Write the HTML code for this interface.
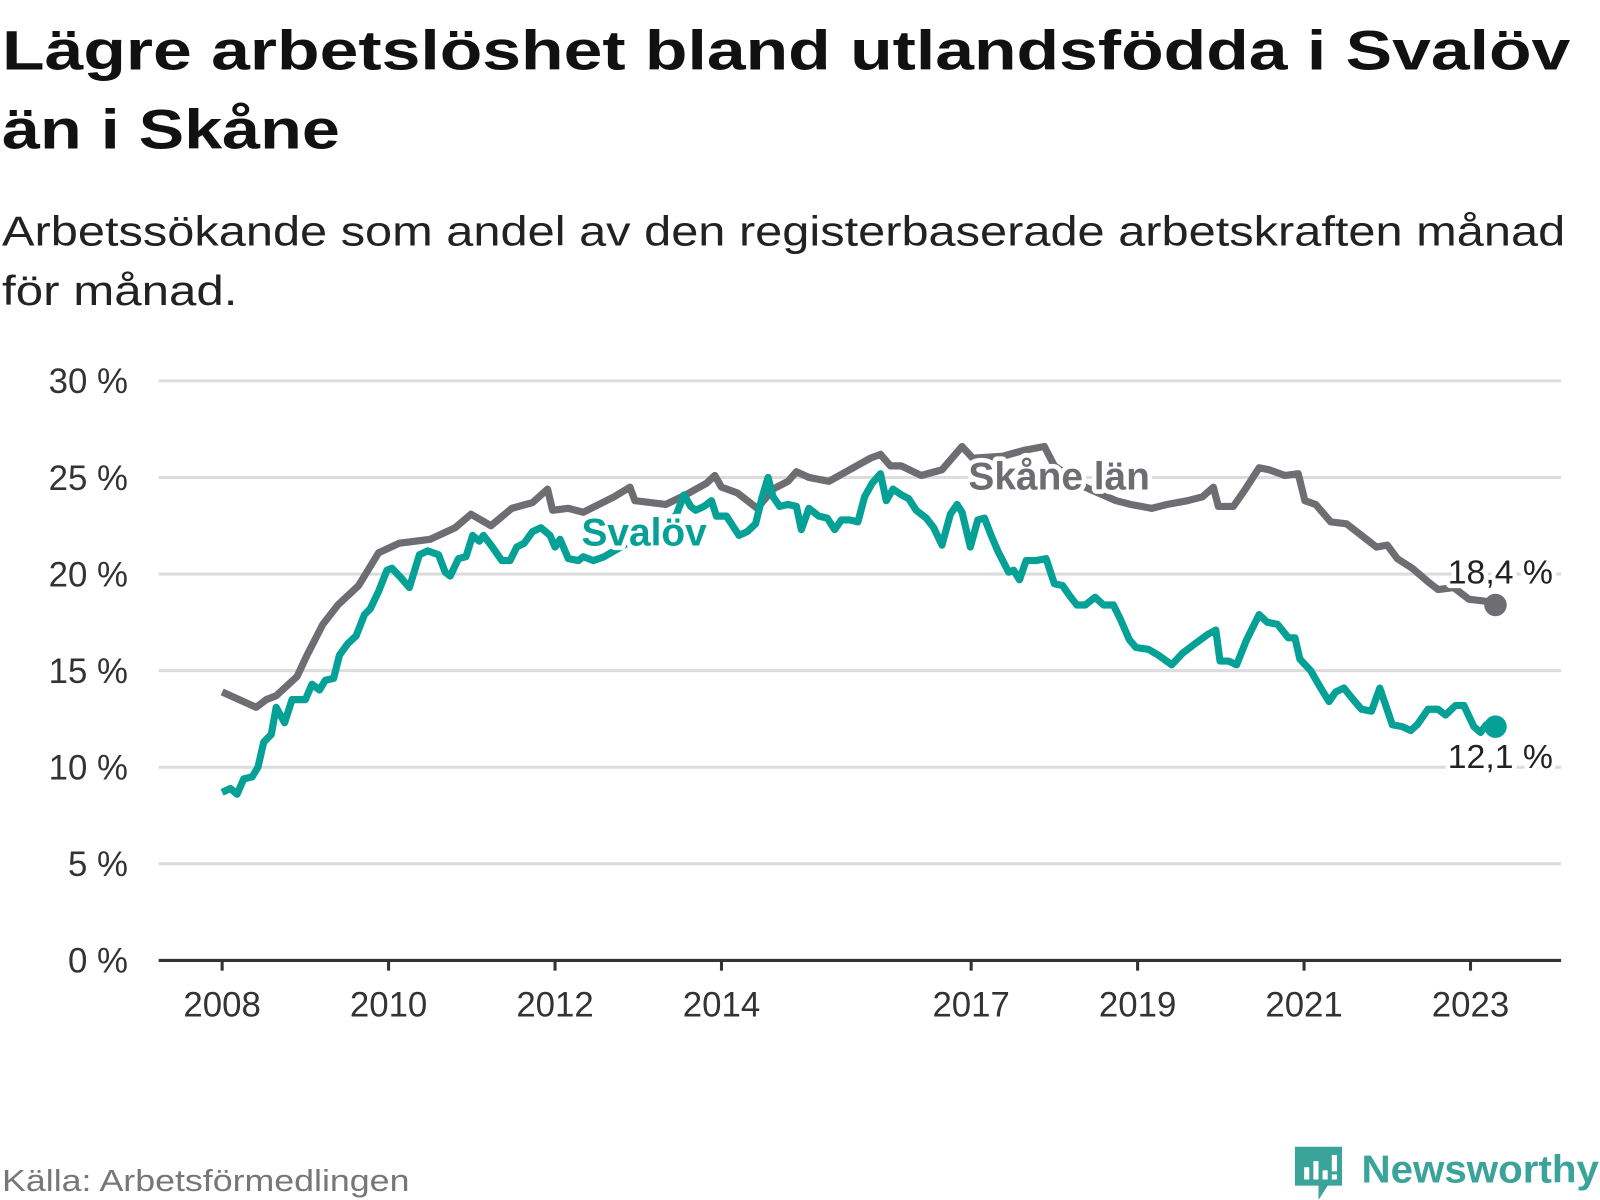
<!DOCTYPE html>
<html><head><meta charset="utf-8"><style>
html,body{margin:0;padding:0;background:#fff;width:1600px;height:1200px;overflow:hidden}
svg{display:block}
text{font-family:"Liberation Sans",sans-serif}
</style></head><body>
<svg id="chart" width="1600" height="1200" viewBox="0 0 1563 1172" preserveAspectRatio="none" xmlns="http://www.w3.org/2000/svg">
<text x="2" y="68" font-size="54" font-weight="bold" fill="#111" textLength="1532" lengthAdjust="spacingAndGlyphs">Lägre arbetslöshet bland utlandsfödda i Svalöv</text>
<text x="2" y="145" font-size="54" font-weight="bold" fill="#111" textLength="330" lengthAdjust="spacingAndGlyphs">än i Skåne</text>
<text x="2" y="240" font-size="41" fill="#222" textLength="1527" lengthAdjust="spacingAndGlyphs">Arbetssökande som andel av den registerbaserade arbetskraften månad</text>
<text x="2" y="298" font-size="41" fill="#222" textLength="230" lengthAdjust="spacingAndGlyphs">för månad.</text>
<g id="grid"></g><g id="axes"></g><g id="lines"></g><g id="labels"></g>
<text x="2" y="1163" font-size="30" fill="#777" textLength="398" lengthAdjust="spacingAndGlyphs">Källa: Arbetsförmedlingen</text>
<g>
<path d="M1265 1120 h46 v38 h-14 l-9 14 l-0 -14 h-23 z" fill="#3aa39a"/>
<rect x="1274" y="1140" width="5" height="12" fill="#fff"/><rect x="1283" y="1134" width="5" height="18" fill="#fff"/><rect x="1292" y="1143" width="5" height="9" fill="#fff"/><rect x="1301" y="1128" width="5" height="16" fill="#fff"/><rect x="1301" y="1147" width="5" height="5" fill="#fff"/>
<text x="1330" y="1155" font-size="38" font-weight="bold" fill="#3aa39a" textLength="232" lengthAdjust="spacingAndGlyphs">Newsworthy</text>
</g>
</svg>
<script>
const yTicks=[0,5,10,15,20,25,30];
const yTickLabels=["0 %","5 %","10 %","15 %","20 %","25 %","30 %"];
const xTicks=[2008,2010,2012,2014,2017,2019,2021,2023];
const skaneT=[2008.00,2008.41,2008.53,2008.65,2008.90,2009.02,2009.21,2009.39,2009.64,2009.88,2010.13,2010.50,2010.80,2010.99,2011.23,2011.48,2011.73,2011.91,2011.97,2012.16,2012.34,2012.71,2012.90,2012.96,2013.33,2013.57,2013.82,2013.92,2014.00,2014.19,2014.43,2014.62,2014.80,2014.90,2015.05,2015.29,2015.54,2015.79,2015.91,2016.03,2016.16,2016.40,2016.65,2016.89,2017.02,2017.38,2017.63,2017.88,2018.00,2018.37,2018.74,2018.92,2019.17,2019.35,2019.60,2019.78,2019.91,2019.97,2020.15,2020.28,2020.46,2020.58,2020.77,2020.93,2021.01,2021.14,2021.32,2021.51,2021.69,2021.87,2022.00,2022.12,2022.30,2022.49,2022.61,2022.80,2022.98,2023.17,2023.30];
const skaneV=[13.9,13.1,13.5,13.7,14.7,15.8,17.4,18.4,19.4,21.1,21.6,21.8,22.4,23.1,22.5,23.4,23.7,24.4,23.3,23.4,23.2,24.0,24.5,23.8,23.6,24.1,24.7,25.1,24.5,24.2,23.4,24.4,24.8,25.3,25.0,24.8,25.4,26.0,26.2,25.6,25.6,25.1,25.4,26.6,26.0,26.1,26.4,26.6,25.6,24.5,23.8,23.6,23.4,23.6,23.8,24.0,24.5,23.5,23.5,24.3,25.5,25.4,25.1,25.2,23.8,23.6,22.7,22.6,22.0,21.4,21.5,20.8,20.3,19.6,19.2,19.3,18.7,18.6,18.4];
const svalovT=[2008.00,2008.10,2008.18,2008.26,2008.36,2008.43,2008.50,2008.59,2008.65,2008.75,2008.84,2009.00,2009.08,2009.17,2009.24,2009.34,2009.41,2009.51,2009.61,2009.71,2009.78,2009.88,2009.98,2010.04,2010.15,2010.25,2010.37,2010.47,2010.60,2010.68,2010.74,2010.84,2010.93,2011.01,2011.09,2011.14,2011.23,2011.36,2011.46,2011.54,2011.63,2011.73,2011.83,2011.94,2012.00,2012.06,2012.16,2012.28,2012.34,2012.46,2012.59,2012.83,2013.08,2013.33,2013.45,2013.55,2013.63,2013.69,2013.79,2013.88,2013.94,2014.06,2014.21,2014.31,2014.41,2014.49,2014.56,2014.62,2014.70,2014.80,2014.90,2014.96,2015.05,2015.17,2015.27,2015.36,2015.44,2015.54,2015.64,2015.72,2015.81,2015.91,2015.98,2016.06,2016.16,2016.25,2016.34,2016.46,2016.55,2016.65,2016.75,2016.83,2016.89,2016.99,2017.08,2017.16,2017.24,2017.32,2017.45,2017.51,2017.58,2017.66,2017.78,2017.90,2018.00,2018.10,2018.18,2018.27,2018.37,2018.49,2018.59,2018.71,2018.80,2018.90,2018.98,2019.13,2019.25,2019.41,2019.54,2019.66,2019.85,2019.94,2019.99,2020.09,2020.19,2020.31,2020.46,2020.56,2020.68,2020.81,2020.89,2020.95,2021.08,2021.20,2021.30,2021.38,2021.48,2021.59,2021.69,2021.81,2021.91,2022.06,2022.18,2022.28,2022.36,2022.49,2022.61,2022.70,2022.82,2022.92,2023.04,2023.12,2023.19,2023.30];
const svalovV=[8.7,8.9,8.6,9.4,9.5,10.0,11.3,11.7,13.1,12.3,13.5,13.5,14.3,14.0,14.5,14.6,15.8,16.4,16.8,17.9,18.2,19.1,20.2,20.3,19.8,19.3,21.0,21.2,21.0,20.1,19.9,20.8,20.9,22.0,21.7,22.0,21.5,20.7,20.7,21.4,21.6,22.2,22.4,22.0,21.4,21.8,20.8,20.7,20.9,20.7,20.9,21.5,22.3,22.8,23.0,24.1,23.5,23.3,23.5,23.8,23.0,23.0,22.0,22.2,22.6,24.0,25.0,24.0,23.5,23.6,23.5,22.3,23.4,23.0,22.9,22.3,22.8,22.8,22.7,24.0,24.7,25.2,23.8,24.4,24.1,23.9,23.3,22.9,22.4,21.5,23.1,23.6,23.2,21.4,22.8,22.9,22.0,21.2,20.1,20.2,19.7,20.7,20.7,20.8,19.5,19.4,18.9,18.4,18.4,18.8,18.4,18.4,17.6,16.6,16.2,16.1,15.8,15.3,15.9,16.3,16.9,17.1,15.5,15.5,15.3,16.6,17.9,17.5,17.4,16.7,16.7,15.6,15.0,14.1,13.4,13.9,14.1,13.5,13.0,12.9,14.1,12.2,12.1,11.9,12.2,13.0,13.0,12.7,13.2,13.2,12.1,11.8,12.2,12.1];

const NS="http://www.w3.org/2000/svg";
const X0=155,X1=1525,Y0=938,Y30=372;
function xs(t){return 217+(t-2008)*81.3;}
function ys(v){return Y0-(v/30)*(Y0-Y30);}
function mk(tag,attrs,parent){const e=document.createElementNS(NS,tag);for(const k in attrs)e.setAttribute(k,attrs[k]);parent.appendChild(e);return e;}
const grid=document.getElementById('grid'),axes=document.getElementById('axes'),lines=document.getElementById('lines'),labels=document.getElementById('labels');
yTicks.forEach((v,i)=>{
  if(v>0){const g=mk('line',{x1:X0,x2:X1,y1:ys(v),y2:ys(v),stroke:'#dcdcdc','stroke-width':3},grid);
  
  }
  const t=mk('text',{x:125,y:ys(v)+12,'font-size':34,fill:'#333','text-anchor':'end'},axes);
  t.textContent=yTickLabels[i];
  
  
});
const ax=mk('line',{x1:X0,x2:X1,y1:Y0,y2:Y0,stroke:'#333','stroke-width':3},axes);


xTicks.forEach(y=>{
  const x=xs(y);
  const tk=mk('line',{x1:x,x2:x,y1:Y0,y2:Y0+10,stroke:'#333','stroke-width':3},axes);
  
  
  const t=mk('text',{x:x,y:993,'font-size':34,fill:'#333','text-anchor':'middle'},axes);
  t.textContent=String(y);
  
  
});
function path(T,V){return T.map((t,i)=>(i?'L':'M')+xs(t).toFixed(1)+' '+ys(V[i]).toFixed(1)).join(' ');}
const pg=mk('path',{d:path(skaneT,skaneV),fill:'none',stroke:'#6d6d72','stroke-width':7,'stroke-linejoin':'round'},lines);


const pt=mk('path',{d:path(svalovT,svalovV),fill:'none',stroke:'#05a096','stroke-width':7,'stroke-linejoin':'round'},lines);


const lg=skaneT.length-1,lt=svalovT.length-1;
const dg=mk('circle',{cx:xs(skaneT[lg]),cy:ys(skaneV[lg]),r:11,fill:'#6d6d72'},lines);


const dt=mk('circle',{cx:xs(svalovT[lt]),cy:ys(svalovV[lt]),r:11,fill:'#05a096'},lines);


function lab(txt,x,y,size,weight,fill,anchor,name){
  const t=mk('text',{x:x,y:y,'font-size':size,'font-weight':weight,fill:fill,'text-anchor':anchor,stroke:'#fff','stroke-width':9,'paint-order':'stroke','stroke-linejoin':'round'},labels);
  t.textContent=txt;
  
  
}
lab('Skåne län',946,478,38,'bold','#6d6d72','start','skane-series-label');
lab('Svalöv',568,533,38,'bold','#05a096','start','svalov-series-label');
lab(String(skaneV[lg]).replace('.',',')+' %',1517,570,33,'normal','#222','end','skane-end-value');
lab(String(svalovV[lt]).replace('.',',')+' %',1517,750,33,'normal','#222','end','svalov-end-value');
</script>
</body></html>
